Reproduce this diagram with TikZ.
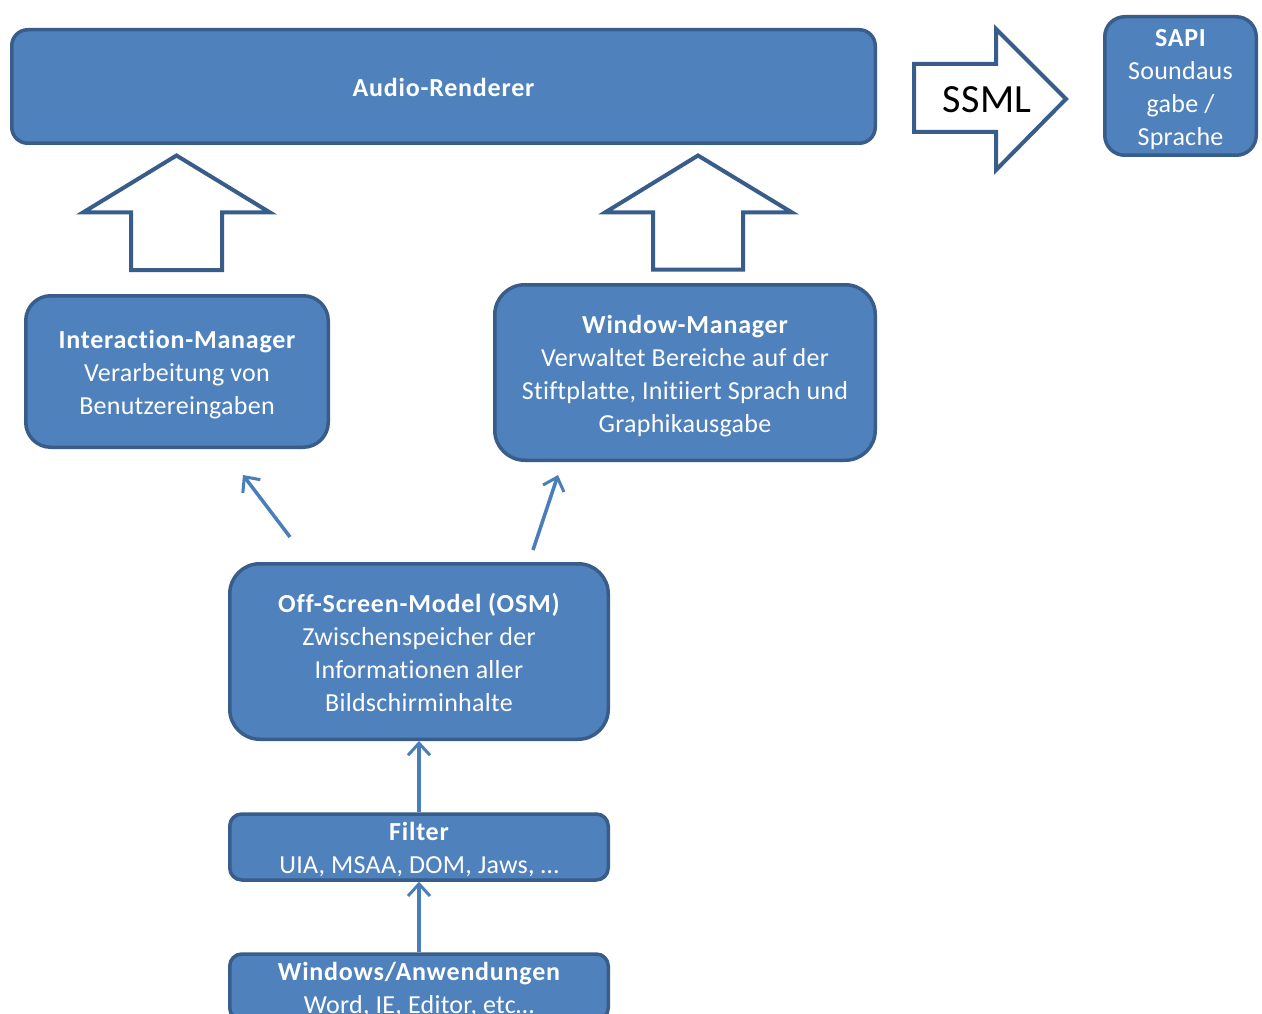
\documentclass[tikz,border=0pt]{standalone}
\usepackage{fontspec}
\setmainfont{Carlito}[LetterSpace=1, Ligatures=NoCommon, BoldFeatures={LetterSpace=3}]
\usetikzlibrary{arrows.meta}
\definecolor{boxfill}{HTML}{4F81BD}
\definecolor{boxline}{HTML}{385D8A}
\definecolor{connblue}{HTML}{4A7EBB}

% centred lines of a box, set slightly below the box centre
\newcommand{\boxlines}[1]{\raisebox{-3.5pt}[\height][\depth]{\begin{tabular}{@{}c@{}}#1\end{tabular}}}

\tikzset{
  block/.style={draw=boxline, fill=boxfill, line width=3.5pt, text=white,
    align=center, font=\fontsize{26}{33}\selectfont, inner sep=0pt},
  conn/.style={draw=connblue, line width=3.5pt,
    -{Straight Barb[length=12pt,width=22pt,line width=3pt]}},
  fatarrow/.style={draw=boxline, fill=white, line width=4pt, line join=miter},
}

\begin{document}
\begin{tikzpicture}[x=1pt,y=-1pt]
\clip (0,0) rectangle (1262,1014);
\fill[white] (0,0) rectangle (1262,1014);

% components
\node[block, minimum width=863.5pt, minimum height=113.5pt, rounded corners=16pt]
  (audio) at (443.5,86.5) {\boxlines{\bfseries Audio-Renderer}};
\node[block, minimum width=151.5pt, minimum height=138.5pt, rounded corners=20pt]
  (sapi) at (1180.5,86) {\raisebox{-1pt}{\boxlines{{\bfseries SAPI}\\Soundaus\\gabe /\\Sprache}}};
\node[block, minimum width=302.5pt, minimum height=151.5pt, rounded corners=25pt]
  (im) at (177,371.5) {\boxlines{{\bfseries Interaction-Manager}\\Verarbeitung von\\Benutzereingaben}};
\node[block, minimum width=380.5pt, minimum height=175.5pt, rounded corners=30pt]
  (wm) at (685,372.5) {\boxlines{{\bfseries Window-Manager}\\Verwaltet Bereiche auf der\\Stiftplatte, Initiiert Sprach und\\Graphikausgabe}};
\node[block, minimum width=378.5pt, minimum height=175.5pt, rounded corners=30pt]
  (osm) at (419,651.5) {\boxlines{{\bfseries Off-Screen-Model (OSM)}\\Zwischenspeicher der\\Informationen aller\\Bildschirminhalte}};
\node[block, minimum width=378.5pt, minimum height=62.5pt, rounded corners=12pt]
  (filter) at (419,847) {\boxlines{{\bfseries Filter}\\UIA, MSAA, DOM, Jaws, …}};
\node[block, minimum width=378.5pt, minimum height=62.5pt, rounded corners=12pt]
  (win) at (419,987) {\boxlines{{\bfseries Windows/Anwendungen}\\Word, IE, Editor, etc…}};

% block arrows into the renderer
\draw[fatarrow] (131,270) -- (131,212.5) -- (83,212.5) -- (176.5,155.5)
  -- (270,212.5) -- (222,212.5) -- (222,270) -- cycle;
\draw[fatarrow] (653,269.5) -- (653,212.5) -- (605,212.5) -- (698,155.5)
  -- (792,212.5) -- (743,212.5) -- (743,269.5) -- cycle;

% SSML output arrow
\draw[fatarrow] (914,64) -- (996,64) -- (996,29) -- (1066,99) -- (996,170)
  -- (996,132) -- (914,132) -- cycle;
\node[font=\fontsize{40}{40}\selectfont] (ssml) at (987,100) {SSML};

% data flow
\coordinate (imIn) at (243,475);
\coordinate (osmToIm) at (290,537);
\coordinate (wmIn) at (558,475);
\coordinate (osmToWm) at (533,550);
\draw[conn] (osmToIm) -- (imIn);
\draw[conn] (osmToWm) -- (wmIn);
\draw[conn] (filter.north) -- (osm.south);
\draw[conn] (win.north) -- (filter.south);
\end{tikzpicture}
\end{document}
